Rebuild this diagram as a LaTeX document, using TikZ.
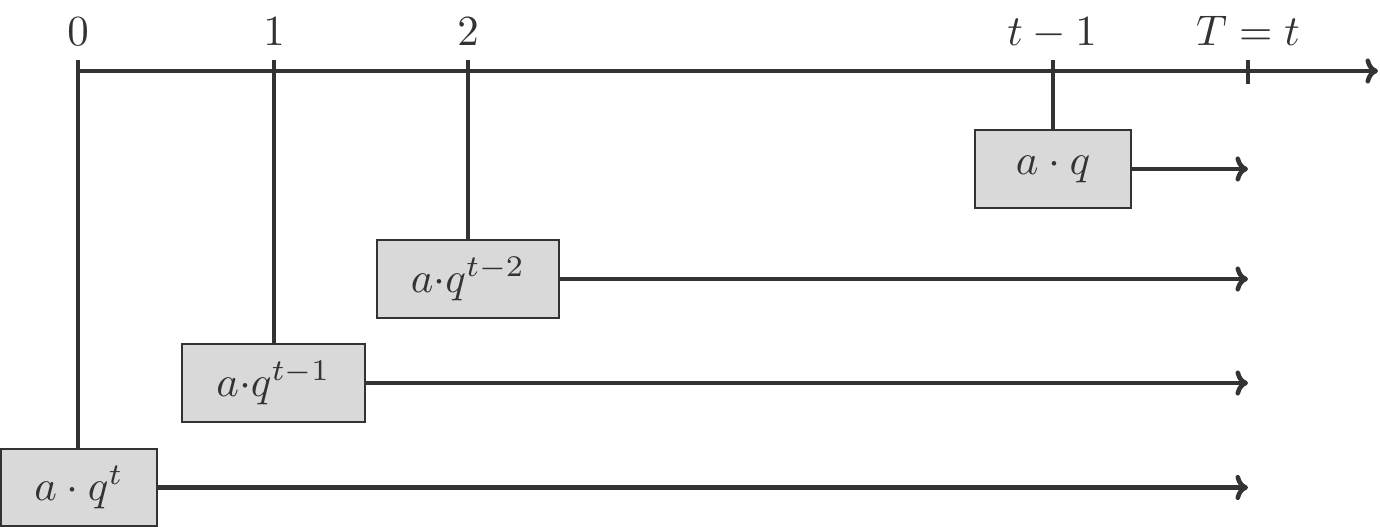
\documentclass[tikz,border=0pt]{standalone}
\usetikzlibrary{arrows.meta}
\definecolor{ink}{HTML}{333333}
\definecolor{boxfill}{HTML}{D9D9D9}
\newcommand{\bigtxt}[1]{\scalebox{1.03}{#1}}
\begin{document}
\begin{tikzpicture}[x=0.24pt,y=-0.24pt,
  line/.style={draw=ink, line width=1.1pt},
  arr/.style={line, -{To[length=3pt,width=6pt]}},
  lbl/.style={anchor=base, text=ink, inner sep=0pt},
  valbox/.style={draw=ink, line width=0.5pt, fill=boxfill, text=ink,
    minimum height=18.6pt, inner sep=2pt},
  narrow/.style={valbox, minimum width=37.4pt},
  wide/.style={valbox, minimum width=43.8pt}]
\useasboundingbox (0,0) rectangle (1380,527);
% axis
\coordinate (axs) at (78,71);
\coordinate (axe) at (1378,71);
\draw[arr] (axs) -- (axe);
% labels
\node[lbl] (l0) at (78,45) {\bigtxt{$0$}};
\node[lbl] (l1) at (274,45) {\bigtxt{$1$}};
\node[lbl] (l2) at (468,45) {\bigtxt{$2$}};
\node[lbl] (l3) at (1052,45) {\bigtxt{$t-1$}};
\node[lbl] (l4) at (1248,45) {\bigtxt{$T=t$}};
% tick tops
\coordinate (k0) at (78,60);
\coordinate (k1) at (274,60);
\coordinate (k2) at (468,60);
\coordinate (k3) at (1053,60);
\coordinate (k4) at (1248,60);
\coordinate (k4b) at (1248,84);
% boxes
\node[narrow] (b0) at (79,487.5) {\bigtxt{$a\cdot q^t$}};
\node[wide] (b1) at (273.5,383) {\bigtxt{$a{\cdot}q^{t-1}$}};
\node[wide] (b2) at (468,279) {\bigtxt{$a{\cdot}q^{t-2}$}};
\node[narrow] (b3) at (1053,169) {\bigtxt{$a\cdot q$}};
% arrow ends
\coordinate (e0) at (1248,487.5);
\coordinate (e1) at (1248,383);
\coordinate (e2) at (1248,279);
\coordinate (e3) at (1248,169);
% verticals
\draw[line] (k0) -- (b0.north -| k0);
\draw[line] (k1) -- (b1.north -| k1);
\draw[line] (k2) -- (b2.north -| k2);
\draw[line] (k3) -- (b3.north -| k3);
\draw[line] (k4) -- (k4b);
% horizontal arrows
\draw[arr] (b0.east) -- (e0);
\draw[arr] (b1.east) -- (e1);
\draw[arr] (b2.east) -- (e2);
\draw[arr] (b3.east) -- (e3);
\end{tikzpicture}
\end{document}
